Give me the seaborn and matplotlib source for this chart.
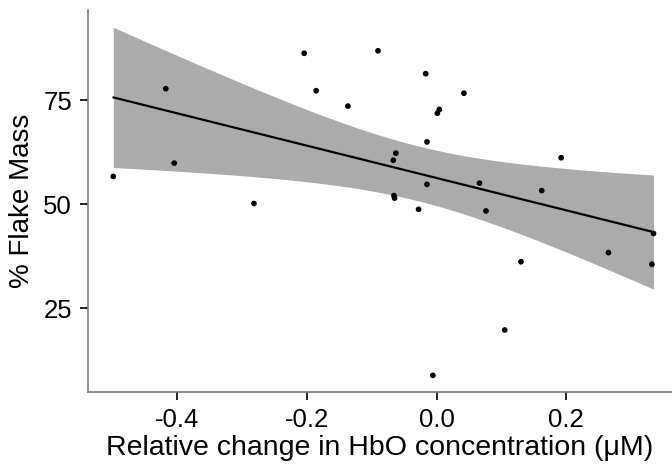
import numpy as np
import pandas as pd
import matplotlib
matplotlib.use("Agg")
import matplotlib.pyplot as plt
import seaborn as sns

# Data
hbo_change = [-0.499, -0.418, -0.405, -0.282, -0.2045, -0.186, -0.137, -0.0906,
              -0.017, 0.042, 0.004, 0.001, -0.015, -0.063, -0.067, 0.192,
              -0.015, 0.066, 0.162, -0.066, -0.065, -0.028, 0.076, 0.3345,
              0.265, 0.332, 0.130, 0.105, -0.006]
flake_mass = [56.7, 77.8, 59.9, 50.2, 86.3, 77.3, 73.6, 86.9,
              81.4, 76.7, 72.8, 71.9, 65.0, 62.3, 60.6, 61.2,
              54.8, 55.1, 53.3, 52.1, 51.5, 48.8, 48.4, 43.0,
              38.4, 35.6, 36.2, 19.8, 8.9]
x_ticks = [-0.4, -0.2, 0.0, 0.2]
x_tick_labels = ["-0.4", "-0.2", "0.0", "0.2"]
y_ticks = [25, 50, 75]
y_tick_labels = ["25", "50", "75"]

df = pd.DataFrame({"x": hbo_change, "y": flake_mass})

# Linear fit with 95% confidence band (as geom_smooth(method="lm"))
x = df["x"].to_numpy()
y = df["y"].to_numpy()
n = len(x)
b1, b0 = np.polyfit(x, y, 1)
resid = y - (b0 + b1 * x)
s = np.sqrt(np.sum(resid ** 2) / (n - 2))
xs = np.linspace(x.min(), x.max(), 80)
xm = x.mean()
sxx = np.sum((x - xm) ** 2)
se = s * np.sqrt(1.0 / n + (xs - xm) ** 2 / sxx)
tcrit = 2.0518  # t(0.975, df=27)
fit = pd.DataFrame({"x": xs, "y": b0 + b1 * xs,
                    "lo": b0 + b1 * xs - tcrit * se,
                    "hi": b0 + b1 * xs + tcrit * se})

sns.set_style("white")
plt.rcParams["font.family"] = ["Liberation Sans", "DejaVu Sans"]

fig = plt.figure(figsize=(6.72, 4.66), dpi=100)
ax = fig.add_axes([88 / 672, 1 - 392 / 466, 1 - 88 / 672, (392 - 10) / 466])

ax.fill_between(fit["x"], fit["lo"], fit["hi"], color="#ababab", linewidth=0, zorder=1)
sns.lineplot(data=fit, x="x", y="y", ax=ax, color="black", linewidth=1.6, zorder=2)
sns.scatterplot(data=df, x="x", y="y", ax=ax, color="black", s=17,
                edgecolor="none", zorder=3)

ax.set_xlim(-0.538, 0.363)
ax.set_ylim(4.9, 96.7)
ax.set_xticks(x_ticks)
ax.set_xticklabels(x_tick_labels)
ax.set_yticks(y_ticks)
ax.set_yticklabels(y_tick_labels)
ax.tick_params(axis="both", which="both", direction="out", length=6, width=1.2,
               color="black", labelsize=18.5, labelcolor="black", pad=5.5,
               bottom=True, left=True)
for side in ["top", "right"]:
    ax.spines[side].set_visible(False)
for side in ["left", "bottom"]:
    ax.spines[side].set_color("#7a7a7a")
    ax.spines[side].set_linewidth(1.2)

ax.set_xlabel("Relative change in HbO concentration (μM)", fontsize=20.5,
              color="black", labelpad=2.5)
ax.set_ylabel("% Flake Mass", fontsize=20, color="black", labelpad=6)

fig.savefig("out.png", dpi=100)
